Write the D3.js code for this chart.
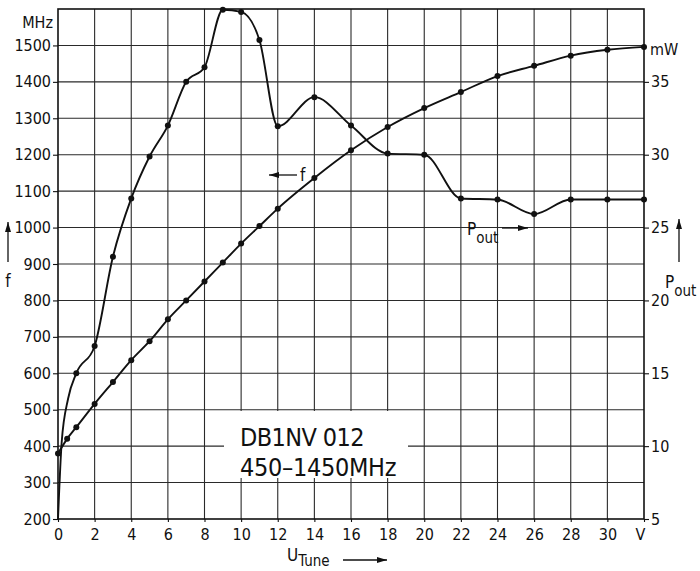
<!DOCTYPE html>
<html>
<head>
<meta charset="utf-8">
<script src="https://cdn.jsdelivr.net/npm/d3@7"></script>
<style>
  body { margin: 0; background: #fff; }
  svg text { font-family: "DejaVu Sans Condensed", "DejaVu Sans", sans-serif; font-stretch: condensed; fill: #111; }
</style>
</head>
<body>
<div id="chart"></div>
<script>
const width = 700;
const height = 571;

// tuning voltage ticks (V)
const uTicks = [0, 2, 4, 6, 8, 10, 12, 14, 16, 18, 20, 22, 24, 26, 28, 30];
const fTicks = [200, 300, 400, 500, 600, 700, 800, 900, 1000, 1100, 1200, 1300, 1400, 1500];
const pTicks = [5, 10, 15, 20, 25, 30, 35];

// f curve: start of trace (no dots), then measured points
const fStartU = [0, 0.2, 0.55];
const fStartMHz = [200, 410, 530];
const fU = [1, 2, 3, 4, 5, 6, 7, 8, 9, 10, 11, 12, 14, 16, 18, 20, 22, 24, 26, 28, 30, 32];
const fMHz = [600, 675, 920, 1080, 1195, 1280, 1400, 1440, 1598, 1592, 1515, 1278, 1358, 1280, 1203, 1200, 1080, 1077, 1037, 1077, 1077, 1077];

// output power
const pU = [0, 0.5, 1, 2, 3, 4, 5, 6, 7, 8, 9, 10, 11, 12, 14, 16, 18, 20, 22, 24, 26, 28, 30, 32];
const pMW = [9.5, 10.5, 11.3, 12.9, 14.4, 15.9, 17.2, 18.7, 20.0, 21.3, 22.6, 23.9, 25.1, 26.3, 28.4, 30.3, 31.9, 33.2, 34.3, 35.4, 36.1, 36.8, 37.2, 37.4];

const mLeft = 58, mRight = 644, mTop = 9, mBottom = 519;

const x = d3.scaleLinear().domain([0, 32]).range([mLeft, mRight]);
const yF = d3.scaleLinear().domain([200, 1600]).range([mBottom, mTop]);
const yP = d3.scaleLinear().domain([5, 40]).range([mBottom, mTop]);

const svg = d3.select('#chart').append('svg')
    .attr('width', width)
    .attr('height', height);

svg.append('rect').attr('width', width).attr('height', height).attr('fill', '#fff');

const defs = svg.append('defs');
defs.append('marker')
    .attr('id', 'arrow')
    .attr('viewBox', '0 0 10 6')
    .attr('refX', 10).attr('refY', 3)
    .attr('markerWidth', 10).attr('markerHeight', 6)
    .attr('markerUnits', 'userSpaceOnUse')
    .attr('orient', 'auto')
    .append('path').attr('d', 'M0,0L10,3L0,6Z').attr('fill', '#111');

// grid
const grid = svg.append('g').attr('stroke', '#2a2a2a').attr('stroke-width', 1.1);
grid.selectAll('.v')
    .data(d3.range(2, 32, 2))
    .enter().append('line')
    .attr('x1', d => x(d)).attr('x2', d => x(d))
    .attr('y1', mTop).attr('y2', mBottom);
grid.selectAll('.h')
    .data(d3.range(300, 1600, 100))
    .enter().append('line')
    .attr('x1', mLeft).attr('x2', mRight)
    .attr('y1', d => yF(d)).attr('y2', d => yF(d));

// white patch behind the type label
svg.append('rect')
    .attr('x', 224).attr('y', 411)
    .attr('width', 184).attr('height', 67)
    .attr('fill', '#fff');

svg.append('rect')
    .attr('x', mLeft).attr('y', mTop)
    .attr('width', mRight - mLeft).attr('height', mBottom - mTop)
    .attr('fill', 'none').attr('stroke', '#111').attr('stroke-width', 1.6);

// axes
const axL = svg.append('g')
    .attr('transform', 'translate(' + mLeft + ',0)')
    .call(d3.axisLeft(yF).tickValues(fTicks).tickFormat(d3.format('d')).tickSize(5).tickPadding(2));
const axR = svg.append('g')
    .attr('transform', 'translate(' + mRight + ',0)')
    .call(d3.axisRight(yP).tickValues(pTicks).tickFormat(d3.format('d')).tickSize(5).tickPadding(2));
const axB = svg.append('g')
    .attr('transform', 'translate(0,' + mBottom + ')')
    .call(d3.axisBottom(x).tickValues(uTicks.concat([32]))
        .tickFormat(d => d === 32 ? 'V' : d).tickSize(3).tickPadding(7));

[axL, axR, axB].forEach(a => {
    a.select('.domain').remove();
    a.selectAll('line').attr('stroke', '#111').attr('stroke-width', 1.1);
    a.selectAll('text').style('font-size', '16px').attr('fill', '#111');
});
axB.selectAll('.tick').filter(d => d === 32).select('text').attr('dx', -4);

svg.append('text').attr('x', 53).attr('y', 28).attr('text-anchor', 'end')
    .style('font-size', '16px').text('MHz');
svg.append('text').attr('x', 650).attr('y', 55)
    .style('font-size', '16px').text('mW');

// curves
const fLine = d3.line().x(d => x(d[0])).y(d => yF(d[1])).curve(d3.curveMonotoneX);
const pLine = d3.line().x(d => x(d[0])).y(d => yP(d[1])).curve(d3.curveMonotoneX);

const fStart = fStartU.map((u, i) => [u, fStartMHz[i]]);
const fPts = fU.map((u, i) => [u, fMHz[i]]);
const pPts = pU.map((u, i) => [u, pMW[i]]);

svg.append('path')
    .attr('d', fLine(fStart.concat(fPts)))
    .attr('fill', 'none').attr('stroke', '#111').attr('stroke-width', 1.9);
svg.append('path')
    .attr('d', pLine(pPts))
    .attr('fill', 'none').attr('stroke', '#111').attr('stroke-width', 1.9);

svg.selectAll('.fdot')
    .data(fPts)
    .enter().append('circle')
    .attr('cx', d => x(d[0])).attr('cy', d => yF(d[1]))
    .attr('r', 3).attr('fill', '#111');
svg.selectAll('.pdot')
    .data(pPts)
    .enter().append('circle')
    .attr('cx', d => x(d[0])).attr('cy', d => yP(d[1]))
    .attr('r', 3).attr('fill', '#111');

// labels
svg.append('text').attr('x', 240).attr('y', 446)
    .style('font-size', '25px').style('letter-spacing', '-0.6px').text('DB1NV 012');
svg.append('text').attr('x', 240).attr('y', 476)
    .style('font-size', '25px').style('letter-spacing', '-0.3px').text('450\u20131450MHz');

// "<- f"
svg.append('line').attr('x1', 297).attr('x2', 269).attr('y1', 175).attr('y2', 175)
    .attr('stroke', '#111').attr('stroke-width', 1.3).attr('marker-end', 'url(#arrow)');
svg.append('text').attr('x', 300).attr('y', 181).style('font-size', '17px').text('f');

// "Pout ->"
const po = svg.append('text').attr('x', 467).attr('y', 235).style('font-size', '17px');
po.append('tspan').text('P');
po.append('tspan').attr('dy', 8).style('font-size', '15px').text('out');
svg.append('line').attr('x1', 502).attr('x2', 528).attr('y1', 228).attr('y2', 228)
    .attr('stroke', '#111').attr('stroke-width', 1.3).attr('marker-end', 'url(#arrow)');

// left axis title
svg.append('line').attr('x1', 8).attr('x2', 8).attr('y1', 262).attr('y2', 222)
    .attr('stroke', '#111').attr('stroke-width', 1.3).attr('marker-end', 'url(#arrow)');
svg.append('text').attr('x', 8).attr('y', 287).attr('text-anchor', 'middle')
    .style('font-size', '17px').text('f');

// right axis title
svg.append('line').attr('x1', 679).attr('x2', 679).attr('y1', 262).attr('y2', 219)
    .attr('stroke', '#111').attr('stroke-width', 1.3).attr('marker-end', 'url(#arrow)');
const pr = svg.append('text').attr('x', 665).attr('y', 288).style('font-size', '17px');
pr.append('tspan').text('P');
pr.append('tspan').attr('dy', 8).style('font-size', '15px').text('out');

// bottom axis title
const ut = svg.append('text').attr('x', 287).attr('y', 561).style('font-size', '17px');
ut.append('tspan').text('U');
ut.append('tspan').attr('dy', 5).style('font-size', '15px').text('Tune');
svg.append('line').attr('x1', 343).attr('x2', 387).attr('y1', 560).attr('y2', 560)
    .attr('stroke', '#111').attr('stroke-width', 1.3).attr('marker-end', 'url(#arrow)');
</script>
</body>
</html>
